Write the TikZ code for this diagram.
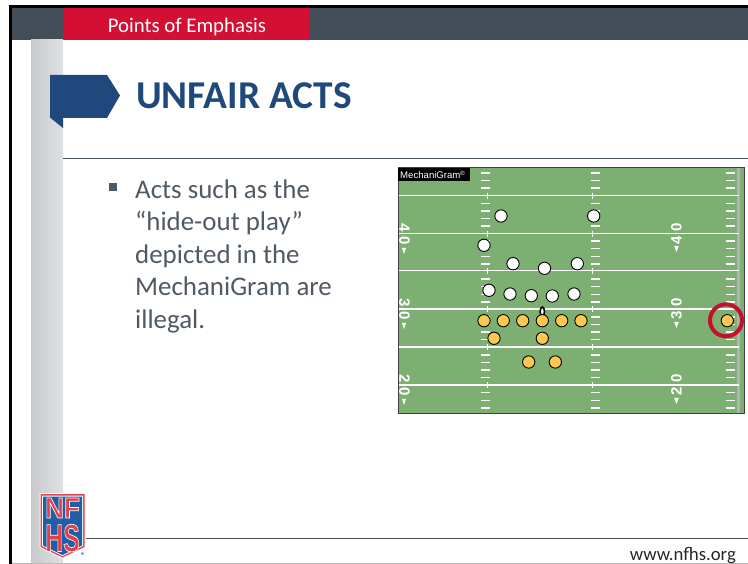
\documentclass[tikz,border=0pt]{standalone}
\usepackage{fontspec}
\setmainfont{Carlito}
\newfontfamily\armo{Liberation Sans}
\usetikzlibrary{shadings}
\definecolor{barc}{HTML}{434E58}
\definecolor{redc}{HTML}{D31033}
\definecolor{bluec}{HTML}{1F497D}
\definecolor{bodyc}{HTML}{505A64}
\definecolor{fieldc}{HTML}{7DAF73}
\definecolor{orangec}{HTML}{FDC850}
\definecolor{ringc}{HTML}{C3102F}
\definecolor{logor}{HTML}{E2404A}
\definecolor{logob}{HTML}{1F5FA8}
\definecolor{stripl}{HTML}{C8C9CD}
\definecolor{stripr}{HTML}{E0E1E3}
\newcommand{\haloed}[1]{\special{pdf:code q 2 Tr 0.7 w 1 1 1 RG}#1\special{pdf:code Q}}
\tikzset{
  whiteplayer/.style={circle,draw=black,line width=0.9pt,fill=white,minimum size=12.3pt,inner sep=0pt},
  orangeplayer/.style={circle,draw=black,line width=0.9pt,fill=orangec,minimum size=12.3pt,inner sep=0pt},
  yardnum/.style={text=white,font=\armo\bfseries\fontsize{15}{15}\selectfont,inner sep=0pt},
  bodytext/.style={anchor=base west,text=bodyc,font=\fontsize{26.9}{27}\selectfont,inner sep=0pt},
  yardline/.style={draw=white,line width=1.6pt},
  hashm/.style={draw=white,line width=1.4pt},
  tick/.style={draw=white,line width=1pt},
  arrowmark/.style={fill=white}
}
\begin{document}
\begin{tikzpicture}[x=1pt,y=-1pt]
\useasboundingbox (0,0) rectangle (748,564);
\fill[white] (0,0) rectangle (748,564);
% frame
\fill[black] (9,5) rectangle (748,8);
\fill[black] (9,5) rectangle (12,564);
\fill[gray!55] (12,562.5) rectangle (748,564);
\fill[barc] (12,8) rectangle (748,40);
\fill[redc] (63,8) rectangle (310,40);
\node[text=white,font=\fontsize{20.8}{21}\selectfont,inner sep=0pt,anchor=base] (tag) at (187,32.5) {Points of Emphasis};
\shade[left color=stripl,right color=stripr] (31,40) rectangle (63,562.5);
% title flag
\fill[bluec] (50,75) -- (107,75) -- (120,95.5) -- (107,118) -- (63,118) -- (63,128) -- (50,117.5) -- cycle;
\node[anchor=base west,text=bluec,font=\bfseries\fontsize{39.4}{39}\selectfont,inner sep=0pt] (title) at (136,108.5) {UNFAIR ACTS};
\draw[barc,line width=0.8pt] (63,158.5) -- (748,158.5);
% body
\fill[bodyc] (109,183.5) rectangle (117,191.2);
\node[bodytext] (l1) at (135,198.2) {Acts such as the};
\node[bodytext] (l2) at (135,230.5) {“hide-out play”};
\node[bodytext] (l3) at (135,263.2) {depicted in the};
\node[bodytext] (l4) at (135,295.5) {MechaniGram are};
\node[bodytext] (l5) at (135,328.5) {illegal.};
% field
\fill[fieldc] (398,168) rectangle (744,413.5);
\fill[black!30] (737,168) rectangle (740,413.5);
\foreach \yy in {195.7,233.7,270.6,309,346.8,384.8}{
  \draw[yardline] (398,\yy) -- (739,\yy);
  \draw[tick] (487.8,\yy-3) -- (487.8,\yy+3);
  \draw[tick] (592.8,\yy-3) -- (592.8,\yy+3);
}
\foreach \k in {-3,...,28}{
  \pgfmathtruncatemacro{\rem}{mod(\k+5,5)}
  \ifnum\rem=0\relax\else
    \pgfmathsetmacro{\yy}{195.7+\k*7.58}
    \draw[hashm] (481,\yy) -- (490,\yy);
    \draw[hashm] (591,\yy) -- (600,\yy);
    \draw[hashm] (726,\yy) -- (735,\yy);
  \fi
}
\draw[black!75,line width=1pt] (398,168) -- (744,168) -- (744,413.5) -- (398,413.5) -- cycle;
\fill[black] (398,168) rectangle (470,181);
\node[anchor=base west,text=white,font=\armo\fontsize{9.6}{10}\selectfont,inner sep=0pt] (mg) at (400,178.5) {MechaniGram\raisebox{2.5pt}{\fontsize{6}{6}\selectfont®}};
% yard numbers
\node[yardnum,rotate=-90] (n40l) at (404.5,234) {4\hspace{4.5pt}0};
\node[yardnum,rotate=-90] (n30l) at (404.5,309) {3\hspace{4.5pt}0};
\node[yardnum,rotate=-90] (n20l) at (404.5,385) {2\hspace{4.5pt}0};
\node[yardnum,rotate=90] (n40r) at (676.5,233.5) {4\hspace{4.5pt}0};
\node[yardnum,rotate=90] (n30r) at (676.5,309) {3\hspace{4.5pt}0};
\node[yardnum,rotate=90] (n20r) at (676.5,384.5) {2\hspace{4.5pt}0};
\foreach \xx/\yy in {404/248,404/323,404/399}{
  \fill[arrowmark] (\xx-2,\yy) -- (\xx+2,\yy) -- (\xx,\yy+6) -- cycle;}
\foreach \xx/\yy in {676.5/252,676.5/328,676.5/404}{
  \fill[arrowmark] (\xx-2.3,\yy-6) -- (\xx+2.3,\yy-6) -- (\xx,\yy) -- cycle;}
% ball
\draw[black,line width=1.6pt,fill=white] (542.3,311.5) ellipse (2.2pt and 4.4pt);
% defence
\foreach \nm/\xx/\yy in {w1/501/216,w2/593.7/216,w3/484/245.3,w4/513/263.7,w5/544.5/268.3,w6/577.3/263.7,w7/489/290.3,w8/510/294,w9/531.3/295.7,w10/552.3/296,w11/574/294}{
  \node[whiteplayer] (\nm) at (\xx,\yy) {};}
% offence
\foreach \nm/\xx/\yy in {o1/484/320.7,o2/503.3/320.7,o3/522.7/320.7,o4/542.3/320.7,o5/561.7/320.7,o6/581/320.7,o7/727.3/320.7,o8/494/338.3,o9/542.3/338.3,o10/528.7/362,o11/555.3/362}{
  \node[orangeplayer] (\nm) at (\xx,\yy) {};}
\draw[ringc,line width=4pt] (726,320.3) circle (16pt);
% footer
\draw[barc,line width=1pt] (86,538.5) -- (748,538.5);
\node[anchor=base east,text=black!85,font=\fontsize{18.7}{19}\selectfont,inner sep=0pt] (url) at (736,560) {www.nfhs.org};
% logo
\fill[white] (39.5,493) -- (85.5,493) -- (85.5,547.5) -- (62.5,558.5) -- (39.5,547.5) -- cycle;
\fill[logor] (40.5,494) -- (84.5,494) -- (84.5,547) -- (62.5,557.5) -- (40.5,547) -- cycle;
\fill[white] (42,495.5) -- (83,495.5) -- (83,546) -- (62.5,556) -- (42,546) -- cycle;
\fill[logob] (43,496.5) -- (82,496.5) -- (82,545.5) -- (62.5,555) -- (43,545.5) -- cycle;
\node[text=logor,font=\armo\bfseries\fontsize{29}{29}\selectfont,inner sep=0pt,xscale=0.9,anchor=base] (nf) at (62.5,518) {\haloed{NF}};
\node[text=logor,font=\armo\bfseries\fontsize{39}{39}\selectfont,inner sep=0pt,xscale=0.64,anchor=base] (hs) at (62.5,551.5) {\haloed{HS}};
\fill[logob!60] (82.5,553.5) circle (1.6pt);
\end{tikzpicture}
\end{document}
